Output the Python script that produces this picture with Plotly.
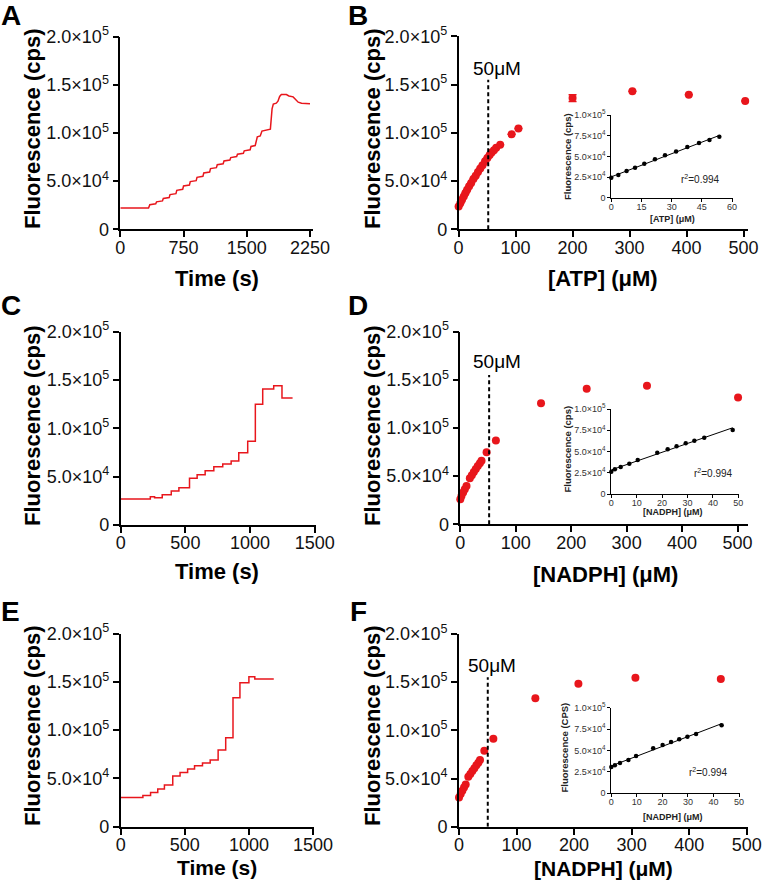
import plotly.graph_objects as go
import numpy as np

# ---------------- data ----------------
# Panel A: time trace (s, fluorescence in thousands of cps)
A_time = [0, 335, 350, 420, 430, 500, 510, 580, 590, 660, 670, 740, 750, 820, 830, 900, 910, 980, 990,
          1060, 1070, 1140, 1150, 1220, 1230, 1300, 1310, 1380, 1390, 1460, 1470, 1540, 1550, 1600, 1625,
          1660, 1680, 1760, 1780, 1800, 1815, 1850, 1870, 1890, 1910, 1970, 2000, 2050, 2080, 2110, 2150, 2250]
A_F = [22, 22, 25.5, 26.5, 28.5, 29.5, 32, 33, 36, 37, 40.5, 41.5, 45, 46, 49.5, 50.5, 54, 55, 58.5,
       59.5, 63, 64, 67, 68, 71, 72, 74.5, 75.5, 78, 79, 81.5, 82.5, 86, 87, 96,
       97, 102, 104, 104, 125, 130, 131, 133, 138, 140, 140, 138.5, 137.5, 135, 132, 131, 130.5]

# Panel B: [ATP] titration (uM, thousands of cps)
B_conc = [0, 3, 6, 9, 12, 15, 18.5, 22, 26, 30, 34, 38, 42, 46.5, 50.5, 54.5, 58, 62, 66, 73, 93, 105, 200, 305, 404, 503]
B_F = [23.5, 27, 30.5, 34, 37.5, 41, 44.5, 48, 52, 55.5, 59.5, 63, 66.5, 70.5, 74, 77, 79.5, 82, 84.5, 87.5, 98.5, 104.5, 136, 143, 139.5, 133]
B_err = [0] * 22 + [3.5, 0, 0, 0]

# Panel C: time trace (step)
C_time = [0, 229, 262, 321, 391, 450, 532, 591, 653, 720, 789, 854, 913, 982, 1041, 1098, 1183, 1247, 1329]
C_F = [26.9, 29.3, 28.3, 31.4, 35.2, 38.6, 48.3, 52.0, 56.2, 60.3, 63.1, 66.2, 74.8, 86.6, 125, 140.7, 144.1, 131.4, 131.4]

# Panel D: [NADPH] titration
D_conc = [0, 2.1, 5.1, 8.1, 11.2, 17.2, 20.8, 24.4, 28.0, 31.6, 35.3, 38.3, 47.4, 64.2, 145.6, 228, 336.7, 501]
D_F = [26.0, 29.4, 32.9, 36.3, 39.8, 47.8, 50.9, 54.3, 57.4, 60.6, 63.3, 66.1, 74.7, 86.9, 125.6, 140.8, 144.0, 131.8]

# Panel E: time trace (step)
E_time = [0, 173, 233, 289, 341, 406, 463, 522, 576, 638, 698, 760, 819, 876, 930, 1000, 1046, 1194]
E_F = [30.3, 32.4, 35.5, 39.0, 43.1, 52.4, 56.2, 59.7, 63.1, 65.9, 69.0, 79.3, 92.1, 133.4, 149.0, 155.2, 152.8, 152.8]

# Panel F: [NADPH] titration
F_conc = [0, 2.9, 5.8, 8.7, 11.6, 16.2, 19.7, 23.2, 26.7, 30.2, 33.6, 36.5, 44.0, 59.7, 132.7, 207.5, 306.6, 455]
F_F = [30.4, 33.9, 37.4, 40.8, 43.9, 51.9, 54.7, 57.8, 60.6, 63.7, 66.4, 69.2, 78.9, 91.3, 133.2, 148.4, 154.7, 153.3]

# Insets (linear range)
IB_conc = [0, 3.5, 7.6, 11.8, 16.4, 21.7, 26.7, 32.2, 37.8, 43.6, 48.8, 53.7]
IB_F = [24.2, 27.4, 32.3, 36.3, 41.1, 46.4, 51.2, 56.0, 61.3, 66.1, 69.8, 73.8]
ID_conc = [0, 1.4, 3.7, 7.1, 10.4, 18.1, 22.2, 25.7, 29.3, 32.7, 36.6, 47.8]
ID_F = [26.3, 29.0, 31.8, 35.7, 40.0, 48.6, 52.5, 56.1, 59.6, 62.7, 66.3, 75.3]
IF_conc = [0, 1.4, 3.4, 6.7, 9.7, 16.4, 20.1, 23.4, 26.6, 29.8, 33.2, 43.2]
IF_F = [30.7, 32.7, 35.4, 38.9, 43.6, 52.5, 56.4, 59.9, 63.0, 66.1, 69.3, 79.4]

R2_text = "r<sup>2</sup>=0.994"
cutoff = [52, 52, 50]   # dashed 50 uM markers for B, D, F

main_yvals = [0, 5e4, 1e5, 1.5e5, 2e5]
main_ytext = ["0", "5.0×10<sup>4</sup>", "1.0×10<sup>5</sup>", "1.5×10<sup>5</sup>", "2.0×10<sup>5</sup>"]
ins_yvals = [0, 2.5e4, 5e4, 7.5e4, 1e5]
ins_ytext = ["0", "2.5×10<sup>4</sup>", "5.0×10<sup>4</sup>", "7.5×10<sup>4</sup>", "1.0×10<sup>5</sup>"]

# ---------------- layout helpers ----------------
W, H = 762, 882
RED = '#e8161c'
FONT = 'Arial, "Liberation Sans", Helvetica, sans-serif'


def dom_x(a, b):
    return [a / W, b / W]


def dom_y(top, bot):
    return [1 - bot / H, 1 - top / H]


def rng(v0, p0, v1, p1, pa, pb):
    s = (v1 - v0) / (p1 - p0)
    return [v0 + (pa - p0) * s, v0 + (pb - p0) * s]


def px(x, y):
    return x / W, 1 - y / H


fig = go.Figure()

specs = {
    1: dict(x0=120.3, xv=2250, xp=310, xe=313, y0=229.3, yv=2e5, yp=36.7, main=True,
            xt=[0, 750, 1500, 2250]),
    2: dict(x0=458.6, xv=500, xp=743.5, xe=748, y0=229.3, yv=2e5, yp=36.3, main=True,
            xt=[0, 100, 200, 300, 400, 500]),
    3: dict(x0=120.7, xv=1500, xp=314.7, xe=315.5, y0=525, yv=2e5, yp=331.7, main=True,
            xt=[0, 500, 1000, 1500]),
    4: dict(x0=460.3, xv=500, xp=737.5, xe=748, y0=524.3, yv=2e5, yp=331.7, main=True,
            xt=[0, 100, 200, 300, 400, 500]),
    5: dict(x0=120.7, xv=1500, xp=313, xe=313.5, y0=826.7, yv=2e5, yp=633.5, main=True,
            xt=[0, 500, 1000, 1500]),
    6: dict(x0=459, xv=500, xp=746.7, xe=748, y0=826.7, yv=2e5, yp=634, main=True,
            xt=[0, 100, 200, 300, 400, 500]),
    7: dict(x0=611.3, xv=60, xp=732, xe=733, y0=197.7, yv=1e5, yp=115, main=False,
            xt=[0, 15, 30, 45, 60]),
    8: dict(x0=611.3, xv=50, xp=738.3, xe=739, y0=494, yv=1e5, yp=409, main=False,
            xt=[0, 10, 20, 30, 40, 50]),
    9: dict(x0=611.3, xv=50, xp=739, xe=739.5, y0=793.3, yv=1e5, yp=707.7, main=False,
            xt=[0, 10, 20, 30, 40, 50]),
}

layout_axes = {}
for i, s in specs.items():
    sfx = '' if i == 1 else str(i)
    main = s['main']
    xr = rng(0, s['x0'], s['xv'], s['xp'], s['x0'], s['xe'])
    yr = [0, s['yv']]
    common = dict(showline=True, linecolor='black', showgrid=False, zeroline=False,
                  ticks='outside', tickcolor='black', fixedrange=True, automargin=False)
    if main:
        common.update(linewidth=1.6, tickwidth=1.6, ticklen=6,
                      tickfont=dict(family=FONT, size=18, color='#111'))
        xstand = -5
    else:
        common.update(linewidth=1, tickwidth=1, ticklen=3,
                      tickfont=dict(family=FONT, size=9, color='#333'))
        xstand = -3
    layout_axes['xaxis' + sfx] = dict(domain=dom_x(s['x0'], s['xe']), range=xr,
                                      anchor='y' + sfx, tickvals=s['xt'],
                                      ticktext=[str(v) for v in s['xt']],
                                      ticklabelstandoff=xstand, **common)
    layout_axes['yaxis' + sfx] = dict(domain=dom_y(s['yp'], s['y0']), range=yr,
                                      anchor='x' + sfx,
                                      tickvals=main_yvals if main else ins_yvals,
                                      ticktext=main_ytext if main else ins_ytext, **common)

k = 1000.0

fig.add_trace(go.Scatter(x=A_time, y=[v * k for v in A_F], mode='lines',
                         line=dict(color=RED, width=1.5), xaxis='x', yaxis='y'))
fig.add_trace(go.Scatter(x=C_time, y=[v * k for v in C_F], mode='lines', line_shape='hv',
                         line=dict(color=RED, width=1.5), xaxis='x3', yaxis='y3'))
fig.add_trace(go.Scatter(x=E_time, y=[v * k for v in E_F], mode='lines', line_shape='hv',
                         line=dict(color=RED, width=1.5), xaxis='x5', yaxis='y5'))

fig.add_trace(go.Scatter(x=B_conc, y=[v * k for v in B_F], mode='markers',
                         marker=dict(color=RED, size=8),
                         error_y=dict(type='data', array=[e * k for e in B_err], color=RED,
                                      thickness=1.5, width=4),
                         cliponaxis=False, xaxis='x2', yaxis='y2'))
fig.add_trace(go.Scatter(x=D_conc, y=[v * k for v in D_F], mode='markers',
                         marker=dict(color=RED, size=8), cliponaxis=False, xaxis='x4', yaxis='y4'))
fig.add_trace(go.Scatter(x=F_conc, y=[v * k for v in F_F], mode='markers',
                         marker=dict(color=RED, size=8), cliponaxis=False, xaxis='x6', yaxis='y6'))

for xs, ys, ax in [(IB_conc, IB_F, '7'), (ID_conc, ID_F, '8'), (IF_conc, IF_F, '9')]:
    slope, icpt = np.polyfit(xs, ys, 1)
    xl = [0, max(xs)]
    fig.add_trace(go.Scatter(x=xl, y=[(icpt + slope * v) * k for v in xl], mode='lines',
                             line=dict(color='black', width=1), xaxis='x' + ax, yaxis='y' + ax))
    fig.add_trace(go.Scatter(x=xs, y=[v * k for v in ys], mode='markers',
                             marker=dict(color='black', size=4.5), cliponaxis=False,
                             xaxis='x' + ax, yaxis='y' + ax))

shapes = []
for c, ax in zip(cutoff, ['2', '4', '6']):
    shapes.append(dict(type='line', xref='x' + ax, yref='y' + ax, x0=c, x1=c, y0=0, y1=1.55e5,
                       line=dict(color='black', width=2, dash='4px,3px')))

annotations = []


def ann(text, x, y, size, bold=False, angle=0, color='black'):
    xx, yy = px(x, y)
    t = '<b>' + text + '</b>' if bold else text
    annotations.append(dict(text=t, x=xx, y=yy, xref='paper', yref='paper', showarrow=False,
                            xanchor='center', yanchor='middle', textangle=angle,
                            font=dict(family=FONT, size=size, color=color)))


for L, x, y in [('A', 11, 15), ('B', 358, 15), ('C', 11, 305), ('D', 358, 305), ('E', 10, 611), ('F', 358, 611)]:
    ann(L, x, y, 28, bold=True)

for x, y in [(32, 129), (372, 129), (32, 426), (372, 426), (32, 726), (372, 726)]:
    ann('Fluorescence (cps)', x, y, 22, bold=True, angle=-90)

ann('Time (s)', 217, 278, 22, bold=True)
ann('[ATP] (μM)', 603, 278, 22, bold=True)
ann('Time (s)', 217, 571, 22, bold=True)
ann('[NADPH] (μM)', 605, 574, 22, bold=True)
ann('Time (s)', 217, 867, 21, bold=True)
ann('[NADPH] (μM)', 603, 868, 21, bold=True)

ann('50μM', 497, 68, 19)
ann('50μM', 497, 362, 19)
ann('50μM', 492, 665, 19)

ann('Fluorescence (cps)', 568, 157, 9.5, bold=True, angle=-90, color='#222')
ann('[ATP] (μM)', 672, 219, 9, bold=True, color='#222')
ann('Fluorescence (cps)', 566.5, 449, 9.5, bold=True, angle=-90, color='#222')
ann('[NADPH] (μM)', 673, 512, 9, bold=True, color='#222')
ann('Fluorescence (CPS)', 563.5, 748, 9.5, bold=True, angle=-90, color='#222')
ann('[NADPH] (μM)', 673, 817, 9, bold=True, color='#222')

ann(R2_text, 700, 179, 10, color='#222')
ann(R2_text, 713, 473, 10, color='#222')
ann(R2_text, 708, 772, 10, color='#222')

fig.update_layout(template='none', width=W, height=H, margin=dict(l=0, r=0, t=0, b=0, pad=0),
                  paper_bgcolor='white', plot_bgcolor='rgba(0,0,0,0)',
                  showlegend=False, shapes=shapes, annotations=annotations,
                  font=dict(family=FONT), **layout_axes)

fig.write_html("out.html", config={'displayModeBar': False},
               post_script="document.body.style.margin='0px';document.body.style.padding='0px';")
